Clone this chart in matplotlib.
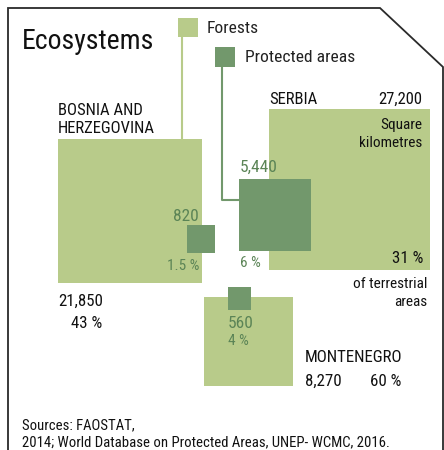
import matplotlib
matplotlib.use("Agg")
import matplotlib.pyplot as plt
from matplotlib.patches import Rectangle
import numpy as np

plt.rcParams['font.family'] = ['Roboto Condensed', 'DejaVu Sans']

# data
countries = ["BOSNIA AND\nHERZEGOVINA", "SERBIA", "MONTENEGRO"]
forest_km2 = [21850, 27200, 8270]
forest_pct = [43, 31, 60]
protected_km2 = [820, 5440, 560]
protected_pct = ["1.5", "6", "4"]

light = "#b8cb8a"
dark = "#72986c"
dark_txt = "#5b8456"
scale = 0.976  # px per sqrt(km2)

fig = plt.figure(figsize=(4.44, 4.5), dpi=100)
ax = fig.add_axes([0, 0, 1, 1])
ax.set_xlim(0, 444)
ax.set_ylim(450, 0)
ax.axis("off")

side_f = [np.sqrt(v) * scale for v in forest_km2]
side_p = [np.sqrt(v) * scale for v in protected_km2]

# top-left corners (layout)
f_pos = [(58, 139), (269, 109), (204, 297)]
p_pos = [(187, 225), (239, 179), (228, 287)]

for (x, y), s in zip(f_pos, side_f):
    ax.add_patch(Rectangle((x, y), s, s, color=light, lw=0, zorder=2))
for (x, y), s in zip(p_pos, side_p):
    ax.add_patch(Rectangle((x, y), s, s, color=dark, lw=0, zorder=3))

# frame
ax.plot([8, 8, 380, 443, 443], [452, 8, 8, 67, 452], color="#2a2a2a", lw=1.3,
        solid_joinstyle="miter", zorder=1)

# legend
ax.add_patch(Rectangle((178, 18), 20, 19, color=light, lw=0, zorder=4))
ax.add_patch(Rectangle((215, 47), 20, 20, color=dark, lw=0, zorder=4))
ax.plot([182, 182], [37, f_pos[0][1]], color=light, lw=1.5, zorder=1)
ax.plot([222, 222, p_pos[1][0]], [67, 200, 200], color=dark, lw=1.5, zorder=1)
ax.text(207, 33, "Forests", fontsize=12.6, va="baseline", color="#222222")
ax.text(245, 62, "Protected areas", fontsize=12.6, va="baseline", color="#222222")

ax.text(22, 49, "Ecosystems", fontsize=20, va="baseline", color="#111111")

lab = dict(fontsize=11, va="baseline", color="#111111")
caps = dict(fontsize=12, va="baseline", color="#111111")
num = dict(fontsize=12.2, va="baseline", color="#111111")
gnum = dict(fontsize=12.5, va="baseline", color=dark_txt)
gsm = dict(fontsize=11, va="baseline", color=dark_txt)

# Bosnia
ax.text(58, 115, countries[0].split("\n")[0], **caps)
ax.text(58, 133, countries[0].split("\n")[1], **caps)
ax.text(58, 306, f"{forest_km2[0]:,}", **num)
ax.text(71, 328, f"{forest_pct[0]} %", **num)
ax.text(199, 221, f"{protected_km2[0]:,}", ha="right", **gnum)
ax.text(199, 270, f"{protected_pct[0]} %", ha="right", **gsm)

# Serbia
ax.text(269, 104, countries[1], **caps)
ax.text(422, 104, f"{forest_km2[1]:,}", ha="right", **caps)
ax.text(422, 129, "Square", ha="right", **lab)
ax.text(422, 147, "kilometres", ha="right", **lab)
ax.text(423, 263, f"{forest_pct[1]} %", ha="right", **num)
ax.text(427, 288, "of terrestrial", ha="right", **lab)
ax.text(427, 306, "areas", ha="right", **lab)
ax.text(240, 172, f"{protected_km2[1]:,}", **gnum)
ax.text(240, 267, f"{protected_pct[1]} %", **gsm)

# Montenegro
ax.text(228, 328, f"{protected_km2[2]:,}", **gnum)
ax.text(228, 345, f"{protected_pct[2]} %", **gsm)
ax.text(305, 362, countries[2], **num)
ax.text(305, 386, f"{forest_km2[2]:,}", **num)
ax.text(401, 386, f"{forest_pct[2]} %", ha="right", **num)

# sources
ax.text(22, 429, "Sources: FAOSTAT,", fontsize=10.6, va="baseline", color="#111111")
ax.text(22, 446, "2014; World Database on Protected Areas, UNEP- WCMC, 2016.",
        fontsize=10.6, va="baseline", color="#111111")

fig.savefig("out.png", dpi=100)
